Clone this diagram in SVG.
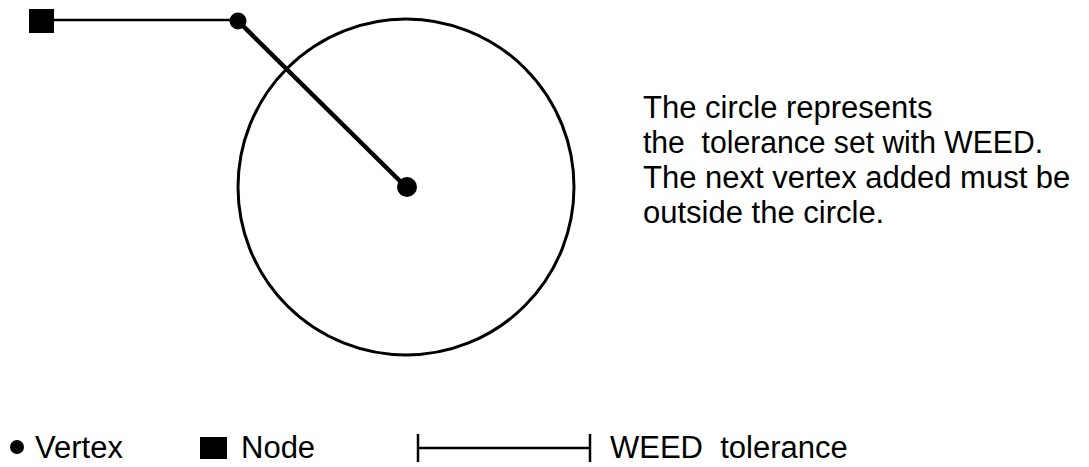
<svg xmlns="http://www.w3.org/2000/svg" width="1089" height="467" viewBox="0 0 1089 467">
<style>
text{font-family:"Liberation Sans",Arial,sans-serif;font-size:31px;fill:#000}
.k{fill:#000}
</style>
<rect width="1089" height="467" fill="#fff"/>
<g id="connectors" stroke="#000" fill="none">
<line x1="54" y1="20" x2="238" y2="20" stroke-width="2.5"/>
<line x1="238" y1="21" x2="406" y2="187" stroke-width="4.5"/>
</g>
<g id="circle"><circle cx="406" cy="187" r="168" fill="none" stroke="#000" stroke-width="3"/></g>
<g id="node1"><rect class="k" x="29" y="9" width="25" height="24"/></g>
<g id="vertex1"><circle class="k" cx="238" cy="21" r="8.5"/></g>
<g id="vertex2"><circle class="k" cx="407" cy="187" r="10"/></g>
<g id="note">
<text x="643" y="118">The circle represents</text>
<text x="643" y="153" xml:space="preserve" textLength="400" lengthAdjust="spacingAndGlyphs">the  tolerance set with WEED.</text>
<text x="643" y="188">The next vertex added must be</text>
<text x="643" y="223">outside the circle.</text>
</g>
<g id="legend">
<circle class="k" cx="17" cy="447" r="7"/>
<text x="35" y="458">Vertex</text>
<rect class="k" x="200" y="437" width="27" height="22"/>
<text x="241" y="458">Node</text>
<g stroke="#000" stroke-width="2.5">
<line x1="418" y1="434" x2="418" y2="462"/>
<line x1="418" y1="448" x2="590" y2="448"/>
<line x1="590" y1="434" x2="590" y2="462"/>
</g>
<text x="610" y="458" xml:space="preserve">WEED  tolerance</text>
</g>
</svg>
